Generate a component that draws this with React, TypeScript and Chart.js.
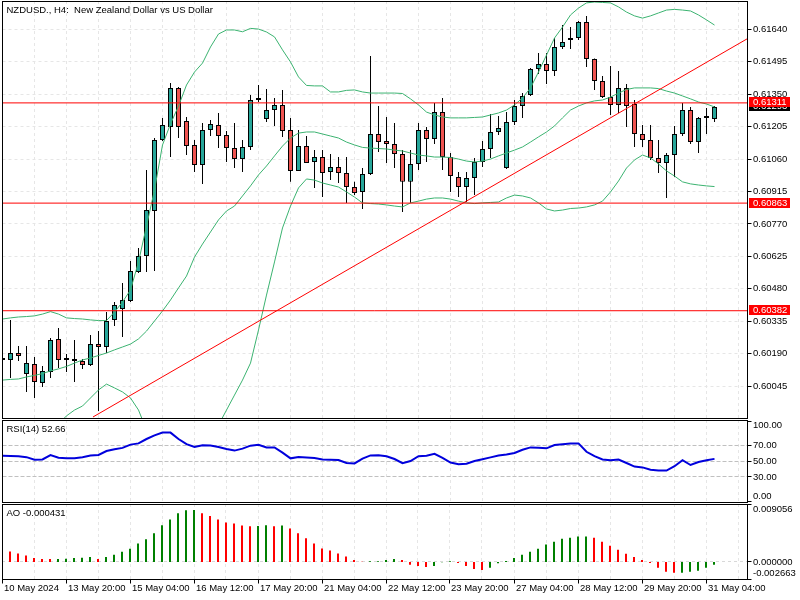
import React, { useEffect, useRef } from 'react';
import { Chart, registerables } from 'chart.js';

Chart.register(...registerables);

// ---------- data ----------
const xTickLabels = ['10 May 2024', '13 May 20:00', '15 May 04:00', '16 May 12:00', '17 May 20:00', '21 May 04:00', '22 May 12:00', '23 May 20:00', '27 May 04:00', '28 May 12:00', '29 May 20:00', '31 May 04:00'];

const open = [
  0.60162, 0.60162, 0.60193, 0.60099, 0.60144, 0.60059, 0.60108, 0.60256, 0.60162, 0.60157,
  0.60157, 0.60139, 0.60233, 0.60220, 0.60341, 0.60390, 0.60426, 0.60555, 0.60627, 0.60828,
  0.61145, 0.61203, 0.61378, 0.61230, 0.61123, 0.61033, 0.61190, 0.61212, 0.61167, 0.61109,
  0.61060, 0.61114, 0.61324, 0.61239, 0.61279, 0.61302, 0.61190, 0.61007, 0.61118, 0.61047,
  0.61069, 0.61002, 0.61024, 0.60998, 0.60935, 0.60913, 0.60993, 0.61172, 0.61141, 0.61127,
  0.61083, 0.60958, 0.61038, 0.61190, 0.61150, 0.61270, 0.61069, 0.60980, 0.60935, 0.60975,
  0.61047, 0.61105, 0.61181, 0.61020, 0.61226, 0.61297, 0.61346, 0.61463, 0.61485, 0.61454,
  0.61561, 0.61592, 0.61601, 0.61673, 0.61507, 0.61409, 0.61337, 0.61302, 0.61378, 0.61306,
  0.61172, 0.61145, 0.61065, 0.61042, 0.61078, 0.61172, 0.61279, 0.61136, 0.61244, 0.61239,
];
const high = [
  0.60175, 0.60341, 0.60224, 0.60224, 0.60175, 0.60135, 0.60260, 0.60305, 0.60189, 0.60251,
  0.60166, 0.60274, 0.60291, 0.60376, 0.60421, 0.60506, 0.60604, 0.60662, 0.61011, 0.61154,
  0.61244, 0.61400, 0.61382, 0.61248, 0.61145, 0.61221, 0.61235, 0.61266, 0.61185, 0.61221,
  0.61145, 0.61346, 0.61391, 0.61373, 0.61333, 0.61369, 0.61244, 0.61190, 0.61163, 0.61100,
  0.61100, 0.61083, 0.61069, 0.61069, 0.60958, 0.61020, 0.61521, 0.61297, 0.61248, 0.61221,
  0.61100, 0.61100, 0.61221, 0.61203, 0.61311, 0.61333, 0.61087, 0.61002, 0.61002, 0.61065,
  0.61141, 0.61261, 0.61252, 0.61270, 0.61324, 0.61355, 0.61467, 0.61534, 0.61534, 0.61601,
  0.61659, 0.61650, 0.61677, 0.61700, 0.61510, 0.61431, 0.61476, 0.61454, 0.61396, 0.61324,
  0.61212, 0.61212, 0.61145, 0.61087, 0.61208, 0.61311, 0.61293, 0.61248, 0.61288, 0.61297,
];
const low = [
  0.60153, 0.60081, 0.60157, 0.60019, 0.59992, 0.60041, 0.60081, 0.60126, 0.60108, 0.60063,
  0.60122, 0.60135, 0.59934, 0.60193, 0.60314, 0.60265, 0.60421, 0.60551, 0.60555, 0.60560,
  0.61141, 0.61069, 0.61154, 0.61078, 0.61002, 0.60949, 0.61163, 0.61109, 0.61047, 0.61020,
  0.61002, 0.61100, 0.61315, 0.61226, 0.61208, 0.61159, 0.60958, 0.61007, 0.61042, 0.60931,
  0.60890, 0.60966, 0.60953, 0.60864, 0.60899, 0.60837, 0.60989, 0.61092, 0.61042, 0.61020,
  0.60823, 0.60864, 0.61011, 0.61047, 0.61127, 0.61011, 0.60913, 0.60890, 0.60868, 0.60899,
  0.61024, 0.61065, 0.61167, 0.61016, 0.61212, 0.61244, 0.61342, 0.61440, 0.61396, 0.61431,
  0.61552, 0.61552, 0.61592, 0.61471, 0.61369, 0.61333, 0.61257, 0.61266, 0.61203, 0.61114,
  0.61114, 0.61056, 0.60998, 0.60886, 0.60980, 0.61163, 0.61127, 0.61087, 0.61172, 0.61226,
];
const close = [
  0.60162, 0.60193, 0.60180, 0.60148, 0.60063, 0.60113, 0.60251, 0.60162, 0.60162, 0.60157,
  0.60139, 0.60233, 0.60220, 0.60336, 0.60408, 0.60430, 0.60560, 0.60627, 0.60832, 0.61145,
  0.61212, 0.61378, 0.61203, 0.61118, 0.61033, 0.61190, 0.61217, 0.61163, 0.61109, 0.61060,
  0.61114, 0.61324, 0.61324, 0.61279, 0.61302, 0.61185, 0.61007, 0.61118, 0.61042, 0.61069,
  0.60998, 0.61024, 0.60998, 0.60935, 0.60908, 0.60993, 0.61172, 0.61136, 0.61127, 0.61083,
  0.60958, 0.61038, 0.61190, 0.61150, 0.61270, 0.61069, 0.60984, 0.60935, 0.60975, 0.61047,
  0.61105, 0.61181, 0.61199, 0.61226, 0.61297, 0.61342, 0.61463, 0.61485, 0.61454, 0.61561,
  0.61583, 0.61601, 0.61673, 0.61507, 0.61409, 0.61337, 0.61302, 0.61378, 0.61297, 0.61172,
  0.61145, 0.61065, 0.61042, 0.61078, 0.61172, 0.61279, 0.61136, 0.61244, 0.61244, 0.61293,
];

const bbUpper = [
  0.60345, 0.60350, 0.60354, 0.60356, 0.60359, 0.60367, 0.60378, 0.60367, 0.60350, 0.60347,
  0.60345, 0.60341, 0.60338, 0.60338, 0.60376, 0.60421, 0.60475, 0.60600, 0.60761, 0.60922,
  0.61123, 0.61217, 0.61297, 0.61391, 0.61449, 0.61489, 0.61561, 0.61619, 0.61637, 0.61637,
  0.61629, 0.61644, 0.61641, 0.61628, 0.61606, 0.61548, 0.61494, 0.61427, 0.61389, 0.61387,
  0.61387, 0.61360, 0.61360, 0.61367, 0.61369, 0.61360, 0.61355, 0.61355, 0.61355, 0.61355,
  0.61353, 0.61329, 0.61302, 0.61270, 0.61257, 0.61248, 0.61244, 0.61244, 0.61244, 0.61246,
  0.61248, 0.61257, 0.61266, 0.61279, 0.61302, 0.61333, 0.61378, 0.61449, 0.61525, 0.61601,
  0.61650, 0.61704, 0.61735, 0.61758, 0.61762, 0.61760, 0.61758, 0.61740, 0.61717, 0.61700,
  0.61690, 0.61700, 0.61713, 0.61726, 0.61729, 0.61726, 0.61722, 0.61704, 0.61682, 0.61659,
];
const bbMiddle = [
  0.60072, 0.60075, 0.60077, 0.60086, 0.60093, 0.60101, 0.60113, 0.60122, 0.60133, 0.60148,
  0.60162, 0.60171, 0.60182, 0.60193, 0.60207, 0.60220, 0.60233, 0.60256, 0.60291, 0.60336,
  0.60381, 0.60430, 0.60484, 0.60537, 0.60622, 0.60680, 0.60734, 0.60788, 0.60828, 0.60850,
  0.60895, 0.60940, 0.60989, 0.61029, 0.61074, 0.61118, 0.61154, 0.61176, 0.61181, 0.61181,
  0.61172, 0.61163, 0.61154, 0.61136, 0.61123, 0.61112, 0.61109, 0.61107, 0.61105, 0.61100,
  0.61096, 0.61087, 0.61078, 0.61074, 0.61069, 0.61069, 0.61067, 0.61060, 0.61051, 0.61047,
  0.61051, 0.61060, 0.61074, 0.61087, 0.61100, 0.61114, 0.61136, 0.61159, 0.61181, 0.61208,
  0.61244, 0.61279, 0.61297, 0.61311, 0.61320, 0.61324, 0.61337, 0.61355, 0.61371, 0.61378,
  0.61378, 0.61378, 0.61375, 0.61364, 0.61355, 0.61342, 0.61329, 0.61315, 0.61306, 0.61293,
];
const bbLower = [
  0.59800, 0.59800, 0.59800, 0.59818, 0.59827, 0.59836, 0.59849, 0.59876, 0.59912, 0.59938,
  0.59956, 0.59992, 0.60028, 0.60054, 0.60037, 0.60019, 0.59992, 0.59938, 0.59849, 0.59751,
  0.59639, 0.59643, 0.59670, 0.59683, 0.59737, 0.59760, 0.59804, 0.59871, 0.59938, 0.60005,
  0.60072, 0.60148, 0.60296, 0.60452, 0.60600, 0.60752, 0.60850, 0.60931, 0.60971, 0.60966,
  0.60953, 0.60944, 0.60935, 0.60913, 0.60890, 0.60864, 0.60861, 0.60859, 0.60855, 0.60850,
  0.60846, 0.60864, 0.60872, 0.60881, 0.60886, 0.60886, 0.60881, 0.60872, 0.60864, 0.60861,
  0.60864, 0.60866, 0.60868, 0.60886, 0.60899, 0.60895, 0.60886, 0.60864, 0.60837, 0.60828,
  0.60832, 0.60839, 0.60841, 0.60846, 0.60855, 0.60872, 0.60913, 0.60962, 0.61020, 0.61056,
  0.61078, 0.61065, 0.61038, 0.61007, 0.60984, 0.60958, 0.60949, 0.60944, 0.60940, 0.60937,
];

const rsi = [
  56.6, 56.3, 55.9, 54.8, 51.5, 52.0, 57.5, 54.0, 53.5, 53.3,
  54.8, 56.8, 57.5, 62.5, 64.8, 66.4, 70.5, 72.0, 77.5, 82.0,
  85.5, 85.5, 77.5, 71.0, 67.5, 69.8, 69.3, 67.5, 65.0, 63.0,
  65.5, 69.2, 70.2, 67.0, 67.0, 60.5, 53.3, 55.0, 54.5, 53.8,
  52.0, 51.6, 51.3, 47.5, 47.0, 53.0, 57.0, 57.2, 56.0, 52.5,
  47.3, 50.0, 56.0, 56.6, 59.0, 54.0, 48.0, 46.0, 46.5, 50.0,
  52.2, 54.5, 56.8, 58.0, 60.0, 64.0, 67.0, 66.5, 65.8, 70.0,
  70.8, 71.8, 72.0, 61.5, 56.0, 52.0, 51.0, 51.8, 47.5, 43.0,
  42.0, 39.0, 38.0, 38.0, 43.5, 51.0, 45.0, 48.8, 51.0, 52.66,
];

const ao = [
  0.00180, 0.00163, 0.00131, 0.00100, 0.00063, 0.00048, 0.00047, 0.00048, 0.00049, 0.00063,
  0.00064, 0.00079, 0.00048, 0.00079, 0.00111, 0.00158, 0.00206, 0.00290, 0.00353, 0.00448,
  0.00575, 0.00665, 0.00760, 0.00808, 0.00812, 0.00760, 0.00717, 0.00665, 0.00618, 0.00602,
  0.00570, 0.00559, 0.00561, 0.00575, 0.00559, 0.00570, 0.00523, 0.00448, 0.00369, 0.00290,
  0.00211, 0.00179, 0.00131, 0.00084, 0.00032, 0.00003, 0.00010, 0.00012, 0.00030, 0.00048,
  0.00032, -0.00042, -0.00063, -0.00079, -0.00063, -0.00003, 0.00010, -0.00016, -0.00063, -0.00111,
  -0.00127, -0.00090, -0.00020, 0.00016, 0.00063, 0.00111, 0.00158, 0.00206, 0.00274, 0.00317,
  0.00364, 0.00380, 0.00396, 0.00398, 0.00380, 0.00317, 0.00253, 0.00190, 0.00127, 0.00079,
  0.00032, -0.00016, -0.00090, -0.00153, -0.00169, -0.00168, -0.00153, -0.00137, -0.00090, -0.000431,
];

const priceTicks = [0.61640, 0.61495, 0.61350, 0.61205, 0.61060, 0.60915, 0.60770, 0.60625, 0.60480, 0.60335, 0.60190, 0.60045];
const levels = [0.61311, 0.60863, 0.60382];
const trendX = [11.31, 93.06];
const trendY = [0.59907, 0.61597];
const rsiTicks = [100, 70, 50, 30, 0];
const rsiLevels = [70, 50, 30];
const aoTicks = [0.009056, 0, -0.002663];

const mainTitle = 'NZDUSD., H4:  New Zealand Dollar vs US Dollar';
const rsiTitle = 'RSI(14) 52.66';
const aoTitle = 'AO -0.000431';

// ---------- style ----------
const FONT = '9.5px "Liberation Sans", Arial, sans-serif';
const GRID = '#e6e6e6';
const GRID_STEP = 4;
const LABEL_STEP = 8;
const BULL = '#26a69a';
const BEAR = '#ef5350';
const BAND = '#3cb371';

type Cfg = {
  title: string;
  yTicks: number[];
  fmt: (v: number) => string;
  hGrid: { values: number[]; color: string; dash: number[] }[];
  boxes?: { value: number; bg: string; text: string }[];
  xLabels?: string[];
};

function decor(cfg: Cfg) {
  return {
    id: 'decor',
    beforeDatasetsDraw(chart: any) {
      const { ctx, chartArea: a } = chart;
      const xs = chart.scales.x, ys = chart.scales.y;
      ctx.save();
      ctx.beginPath();
      ctx.rect(a.left, a.top, a.right - a.left, a.bottom - a.top);
      ctx.clip();
      ctx.lineWidth = 1;
      ctx.strokeStyle = GRID;
      ctx.setLineDash([3, 3]);
      for (let k = 0; k <= xs.max; k += GRID_STEP) {
        const px = Math.floor(xs.getPixelForValue(k)) + 0.5;
        ctx.beginPath(); ctx.moveTo(px, a.top); ctx.lineTo(px, a.bottom); ctx.stroke();
      }
      for (const g of cfg.hGrid) {
        ctx.strokeStyle = g.color;
        ctx.setLineDash(g.dash);
        for (const v of g.values) {
          const py = Math.floor(ys.getPixelForValue(v)) + 0.5;
          ctx.beginPath(); ctx.moveTo(a.left, py); ctx.lineTo(a.right, py); ctx.stroke();
        }
      }
      ctx.restore();
    },
    afterDraw(chart: any) {
      const { ctx, chartArea: a } = chart;
      const xs = chart.scales.x, ys = chart.scales.y;
      ctx.save();
      ctx.setLineDash([]);
      ctx.lineWidth = 1;
      ctx.strokeStyle = '#000';
      const L = Math.floor(a.left) + 0.5, R = Math.floor(a.right) + 0.5;
      const T = Math.floor(a.top) + 0.5, B = Math.floor(a.bottom) + 0.5;
      ctx.strokeRect(L, T, R - L, B - T);
      ctx.font = FONT;
      ctx.textBaseline = 'middle';
      ctx.textAlign = 'left';
      ctx.fillStyle = '#000';
      for (const v of cfg.yTicks) {
        const p = ys.getPixelForValue(v);
        const py = Math.floor(p) + 0.5;
        ctx.beginPath(); ctx.moveTo(R, py); ctx.lineTo(R + 4, py); ctx.stroke();
        const ty = Math.min(Math.max(p, a.top + 5), a.bottom - 6);
        ctx.fillText(cfg.fmt(v), R + 5.5, ty);
      }
      ctx.fillText(cfg.title, L + 4, a.top + 9);
      if (cfg.boxes) {
        for (const b of cfg.boxes) {
          const p = ys.getPixelForValue(b.value);
          const top = Math.floor(p) - 5;
          ctx.fillStyle = b.bg;
          ctx.fillRect(Math.floor(a.right) + 2, top, 41, 10);
          ctx.fillStyle = '#fff';
          ctx.fillText(b.text, Math.floor(a.right) + 6, top + 5.5);
        }
      }
      if (cfg.xLabels) {
        ctx.fillStyle = '#000';
        cfg.xLabels.forEach((lab, i) => {
          const px = Math.floor(xs.getPixelForValue(i * LABEL_STEP)) + 0.5;
          ctx.beginPath(); ctx.moveTo(px, B); ctx.lineTo(px, B + 4); ctx.stroke();
          ctx.fillText(lab, px + 1.5, B + 8.5);
        });
      }
      ctx.restore();
    },
  };
}

function baseOptions(padLeft: number, padBottom: number, xMax: number, yMin: number, yMax: number) {
  return {
    animation: false as const,
    responsive: false,
    devicePixelRatio: 1,
    events: [] as any[],
    layout: { padding: { left: padLeft, right: 53, top: 1, bottom: padBottom } },
    plugins: { legend: { display: false }, tooltip: { enabled: false } },
    scales: {
      x: { type: 'linear' as const, display: false, min: 0, max: xMax, offset: false },
      y: { type: 'linear' as const, display: false, min: yMin, max: yMax },
    },
  };
}

function lineDs(data: { x: number; y: number }[], color: string, width: number, order: number) {
  return {
    type: 'line' as const,
    data,
    borderColor: color,
    borderWidth: width,
    pointRadius: 0,
    tension: 0,
    fill: false,
    order,
  };
}

function buildMain(canvas: HTMLCanvasElement) {
  const last = close.length - 1;
  const xMax = 93.06;
  const bodyColors = open.map((o, i) => (close[i] > o ? BULL : close[i] < o ? BEAR : '#000'));
  const datasets: any[] = [
    ...levels.map((lv) => lineDs([{ x: 0, y: lv }, { x: xMax, y: lv }], '#ff0000', 1, 0)),
    lineDs([{ x: trendX[0], y: trendY[0] }, { x: trendX[1], y: trendY[1] }], '#ff0000', 1, 0),
    lineDs(bbUpper.map((v, i) => ({ x: i, y: v })), BAND, 1, 1),
    lineDs(bbMiddle.map((v, i) => ({ x: i, y: v })), BAND, 1, 1),
    lineDs(bbLower.map((v, i) => ({ x: i, y: v })), BAND, 1, 1),
    {
      type: 'bar',
      data: open.map((o, i) => ({ x: i, y: [o, close[i]] })),
      backgroundColor: bodyColors,
      borderColor: '#000',
      borderWidth: 1,
      borderSkipped: false,
      barThickness: 5,
      minBarLength: 2,
      grouped: false,
      inflateAmount: 0,
      order: 2,
    },
    {
      type: 'bar',
      data: low.map((l, i) => ({ x: i, y: [l, high[i]] })),
      backgroundColor: '#000',
      borderWidth: 0,
      barThickness: 1,
      grouped: false,
      inflateAmount: 0,
      order: 3,
    },
  ];
  return new Chart(canvas, {
    type: 'bar',
    data: { datasets },
    options: baseOptions(2.5, 1, xMax, 0.599025, 0.617665) as any,
    plugins: [
      decor({
        title: mainTitle,
        yTicks: priceTicks,
        fmt: (v) => v.toFixed(5),
        hGrid: [{ values: priceTicks, color: GRID, dash: [3, 3] }],
        boxes: [
          { value: close[last], bg: '#000', text: close[last].toFixed(5) },
          ...levels.map((lv) => ({ value: lv, bg: '#ff0000', text: lv.toFixed(5) })),
        ],
      }),
    ],
  });
}

function buildRsi(canvas: HTMLCanvasElement) {
  return new Chart(canvas, {
    type: 'line',
    data: { datasets: [lineDs(rsi.map((v, i) => ({ x: i, y: v })), '#0000dc', 2, 0) as any] },
    options: baseOptions(2.5, 1, 93.06, -1.25, 101.25) as any,
    plugins: [
      decor({
        title: rsiTitle,
        yTicks: rsiTicks,
        fmt: (v) => v.toFixed(2),
        hGrid: [{ values: rsiLevels, color: '#c0c0c0', dash: [4, 2] }],
      }),
    ],
  });
}

function buildAo(canvas: HTMLCanvasElement) {
  const colors = ao.map((v, i) => (i > 0 && v > ao[i - 1] ? '#008000' : '#ff0000'));
  return new Chart(canvas, {
    type: 'bar',
    data: {
      datasets: [
        {
          data: ao.map((v, i) => ({ x: i, y: v })),
          backgroundColor: colors,
          borderWidth: 0,
          barThickness: 2,
          grouped: false,
          inflateAmount: 0,
        } as any,
      ],
    },
    options: baseOptions(2, 21, 93.125, -0.002663, 0.009056) as any,
    plugins: [
      decor({
        title: aoTitle,
        yTicks: aoTicks,
        fmt: (v) => v.toFixed(6),
        hGrid: [{ values: [0], color: '#d8d8d8', dash: [3, 3] }],
        xLabels: xTickLabels,
      }),
    ],
  });
}

export default function App() {
  const mainRef = useRef<HTMLCanvasElement>(null);
  const rsiRef = useRef<HTMLCanvasElement>(null);
  const aoRef = useRef<HTMLCanvasElement>(null);

  useEffect(() => {
    const charts = [
      buildMain(mainRef.current as HTMLCanvasElement),
      buildRsi(rsiRef.current as HTMLCanvasElement),
      buildAo(aoRef.current as HTMLCanvasElement),
    ];
    return () => charts.forEach((c) => c.destroy());
  }, []);

  return (
    <div style={{ position: 'absolute', left: 0, top: 0, width: 800, height: 600, background: '#fff', overflow: 'hidden' }}>
      <canvas ref={mainRef} width={800} height={419} style={{ position: 'absolute', left: 0, top: 0 }} />
      <canvas ref={rsiRef} width={800} height={84} style={{ position: 'absolute', left: 0, top: 419 }} />
      <canvas ref={aoRef} width={800} height={97} style={{ position: 'absolute', left: 0, top: 503 }} />
    </div>
  );
}
